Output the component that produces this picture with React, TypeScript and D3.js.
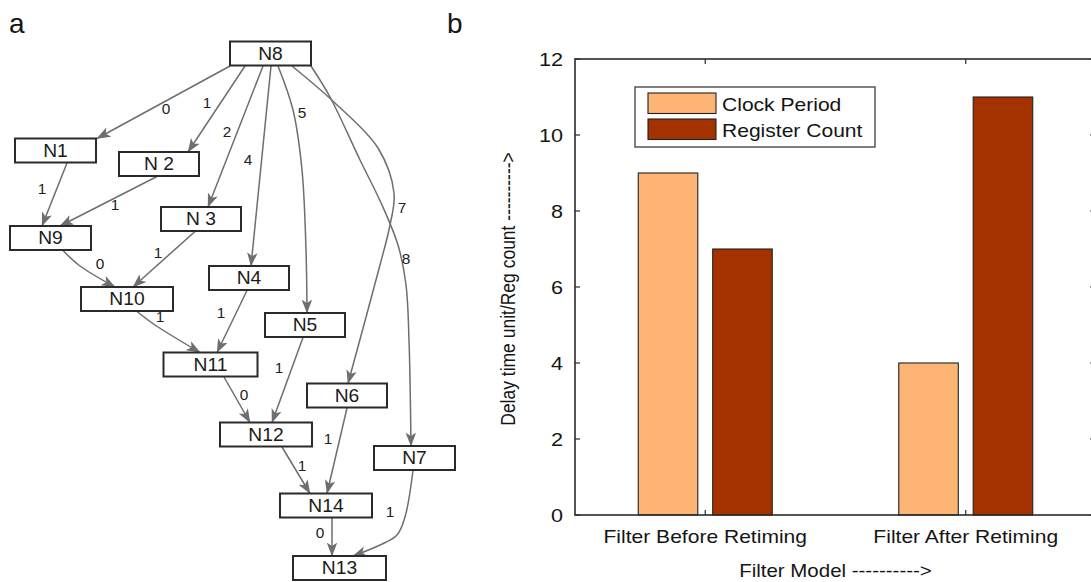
import React, { useEffect, useRef } from 'react';
import * as d3 from 'd3';

// ---------- Panel b data ----------
const categories = ['Filter Before Retiming', 'Filter After Retiming'];
const seriesNames = ['Clock Period', 'Register Count'];
const clockPeriod = [9, 4];
const registerCount = [7, 11];
const yTicks = [0, 2, 4, 6, 8, 10, 12];
const xAxisTitle = 'Filter Model ---------->';
const yAxisTitle = 'Delay time unit/Reg count ---------->';

// ---------- Panel a data ----------
const nodeNames = ['N8', 'N1', 'N2', 'N3', 'N9', 'N4', 'N10', 'N5', 'N11', 'N6', 'N12', 'N7', 'N14', 'N13'];
const nodeLabels = ['N8', 'N1', 'N 2', 'N 3', 'N9', 'N4', 'N10', 'N5', 'N11', 'N6', 'N12', 'N7', 'N14', 'N13'];
const edgeList: [string, string, number][] = [
  ['N8', 'N1', 0], ['N8', 'N2', 1], ['N8', 'N3', 2], ['N8', 'N4', 4], ['N8', 'N5', 5],
  ['N8', 'N6', 7], ['N8', 'N7', 8], ['N1', 'N9', 1], ['N2', 'N9', 1], ['N3', 'N10', 1],
  ['N9', 'N10', 0], ['N10', 'N11', 1], ['N4', 'N11', 1], ['N11', 'N12', 0], ['N5', 'N12', 1],
  ['N6', 'N14', 1], ['N12', 'N14', 1], ['N14', 'N13', 0], ['N7', 'N13', 1],
];

// ---------- Layout (positions / sizes) ----------
const nodeLayout: Record<string, [number, number, number]> = {
  N8: [270.5, 53.5, 81], N1: [55.5, 150.5, 81], N2: [159, 164, 80], N3: [201, 219, 80],
  N9: [50.5, 238, 81], N4: [249, 278, 80], N10: [127, 299, 92], N5: [305, 325, 80],
  N11: [210.5, 364.5, 94], N6: [347, 395.5, 80], N12: [266, 434.5, 92], N7: [414.5, 458, 81],
  N14: [326, 505.5, 92], N13: [339.5, 568, 93],
};
const NODE_H = 24;
const edgeRoutes: { s: number; t: number; via: [number, number][]; lab: [number, number] }[] = [
  { s: -40.5, t: 41.5, via: [], lab: [166, 109] },
  { s: -25.5, t: 29, via: [], lab: [207, 103] },
  { s: -7.5, t: 7, via: [], lab: [227, 132] },
  { s: 0.5, t: 2, via: [], lab: [248, 160] },
  { s: 7.5, t: 2, via: [[293, 110], [302, 170], [306, 250]], lab: [302, 113] },
  { s: 21.5, t: 1, via: [[335, 103], [378, 148], [394, 193], [390, 225], [380, 265]], lab: [402, 208] },
  { s: 40.5, t: -3.5, via: [[330, 97], [360, 160], [382, 205], [398, 245], [406, 285], [409, 340]], lab: [406, 259] },
  { s: 11.5, t: -8.5, via: [], lab: [42, 189] },
  { s: -2, t: 9.5, via: [], lab: [115, 205] },
  { s: -6, t: 6, via: [], lab: [158, 253] },
  { s: 12.5, t: -12, via: [[80, 266]], lab: [100, 264] },
  { s: 10, t: -10.5, via: [[155, 325]], lab: [160, 317] },
  { s: -2, t: 6.5, via: [], lab: [221, 313] },
  { s: 13.5, t: -16, via: [], lab: [244, 395] },
  { s: -2, t: 6, via: [], lab: [279, 368] },
  { s: 0, t: 1, via: [], lab: [328, 439] },
  { s: 16, t: -16, via: [], lab: [302, 466] },
  { s: 6, t: -7.5, via: [], lab: [320, 533] },
  { s: -1.5, t: 13.5, via: [[405, 517], [397, 535], [380, 545]], lab: [390, 512] },
];

const FONT = '"Liberation Sans", Arial, sans-serif';
const PEACH = '#FDB474';
const BRICK = '#A33200';
const EDGE = '#6e6e6e';

function txt(g: any, x: number, y: number, s: string, size: number, o: any = {}) {
  return g
    .append('text')
    .attr('transform', `translate(${x},${y})${o.rot ? ` rotate(${o.rot})` : ''} scale(${o.sx ?? 1},${o.sy ?? 1})`)
    .attr('text-anchor', o.anchor ?? 'start')
    .attr('font-size', size)
    .attr('font-family', FONT)
    .attr('fill', o.fill ?? '#151515')
    .text(s);
}

export default function App() {
  const ref = useRef<SVGSVGElement>(null);

  useEffect(() => {
    const svg = d3.select(ref.current);
    svg.selectAll('*').remove();

    // ---------- Panel labels ----------
    txt(svg, 9, 33, 'a', 28);
    txt(svg, 447, 33, 'b', 28);

    // ---------- Panel a: graph ----------
    const defs = svg.append('defs');
    defs
      .append('marker')
      .attr('id', 'arr')
      .attr('markerUnits', 'userSpaceOnUse')
      .attr('markerWidth', 14)
      .attr('markerHeight', 12)
      .attr('viewBox', '0 0 12 10')
      .attr('refX', 11.5)
      .attr('refY', 5)
      .attr('orient', 'auto')
      .append('path')
      .attr('d', 'M0,0.5 L12,5 L0,9.5 L3,5 Z')
      .attr('fill', EDGE);

    const ga = svg.append('g');
    const line = d3
      .line<[number, number]>()
      .x((d) => d[0])
      .y((d) => d[1])
      .curve(d3.curveCatmullRom.alpha(0.5));

    edgeList.forEach(([src, tgt, w], i) => {
      const r = edgeRoutes[i];
      const [sx, sy] = nodeLayout[src];
      const [tx, ty] = nodeLayout[tgt];
      const pts: [number, number][] = [
        [sx + r.s, sy + NODE_H / 2 + 0.5],
        ...r.via,
        [tx + r.t, ty - NODE_H / 2],
      ];
      ga.append('path')
        .attr('d', line(pts))
        .attr('fill', 'none')
        .attr('stroke', EDGE)
        .attr('stroke-width', 1.5)
        .attr('marker-end', 'url(#arr)');
      txt(ga, r.lab[0], r.lab[1] + 5, String(w), 14, { anchor: 'middle', sx: 1.1, fill: '#222' });
    });

    nodeNames.forEach((n, i) => {
      const [cx, cy, w] = nodeLayout[n];
      ga.append('rect')
        .attr('x', cx - w / 2)
        .attr('y', cy - NODE_H / 2)
        .attr('width', w)
        .attr('height', NODE_H)
        .attr('fill', '#fff')
        .attr('stroke', '#2a2a2a')
        .attr('stroke-width', 2);
      txt(ga, cx, cy + 6.3, nodeLabels[i], 17.5, { anchor: 'middle', sx: 1.1, fill: '#1a1a1a' });
    });

    // ---------- Panel b: bar chart ----------
    const left = 575, right = 1096, top = 59, bottom = 515;
    const x = d3.scaleLinear().domain([0.5, categories.length + 0.5]).range([left, right]);
    const y = d3.scaleLinear().domain([0, 12]).range([bottom, top]);
    const nSeries = seriesNames.length;
    const groupWidth = Math.min(0.8, nSeries / (nSeries + 1.5));
    const barW = (groupWidth / nSeries) * 0.8;
    const series = [clockPeriod, registerCount];
    const colors = [PEACH, BRICK];
    const gb = svg.append('g');

    series.forEach((vals, si) => {
      const off = -groupWidth / 2 + (si + 0.5) * (groupWidth / nSeries);
      vals.forEach((v, ci) => {
        const xc = ci + 1 + off;
        gb.append('rect')
          .attr('x', x(xc - barW / 2))
          .attr('y', y(v))
          .attr('width', x(xc + barW / 2) - x(xc - barW / 2))
          .attr('height', y(0) - y(v))
          .attr('fill', colors[si])
          .attr('stroke', '#222')
          .attr('stroke-width', 1.1);
      });
    });

    // frame
    const axCol = '#2b2b2b';
    gb.append('rect')
      .attr('x', left)
      .attr('y', top)
      .attr('width', right - left)
      .attr('height', bottom - top)
      .attr('fill', 'none')
      .attr('stroke', axCol)
      .attr('stroke-width', 1.6);

    // y ticks
    yTicks.forEach((t) => {
      gb.append('line').attr('x1', left).attr('x2', left + 5).attr('y1', y(t)).attr('y2', y(t)).attr('stroke', axCol).attr('stroke-width', 1.2);
      gb.append('line').attr('x1', right).attr('x2', right - 6).attr('y1', y(t)).attr('y2', y(t)).attr('stroke', axCol).attr('stroke-width', 1.2);
      txt(gb, left - 12, y(t) + 6.5, String(t), 18, { anchor: 'end', sx: 1.2 });
    });

    // x ticks and labels
    categories.forEach((c, i) => {
      const xc = x(i + 1);
      gb.append('line').attr('x1', xc).attr('x2', xc).attr('y1', bottom).attr('y2', bottom - 5).attr('stroke', axCol).attr('stroke-width', 1.2);
      gb.append('line').attr('x1', xc).attr('x2', xc).attr('y1', top).attr('y2', top + 5).attr('stroke', axCol).attr('stroke-width', 1.2);
      txt(gb, xc, 543, c, 18, { anchor: 'middle', sx: 1.17 });
    });

    // axis titles
    txt(gb, (left + right) / 2, 577, xAxisTitle, 17.5, { anchor: 'middle', sx: 1.17 });
    txt(gb, 515, 289, yAxisTitle, 17.5, { anchor: 'middle', rot: -90, sy: 1.2 });

    // legend
    const lg = gb.append('g');
    lg.append('rect').attr('x', 635).attr('y', 87).attr('width', 240).attr('height', 60).attr('fill', '#fff').attr('stroke', '#4a4a4a').attr('stroke-width', 1.4);
    seriesNames.forEach((s, i) => {
      const yy = 93 + i * 26;
      lg.append('rect').attr('x', 648).attr('y', yy).attr('width', 68).attr('height', 20.5).attr('fill', colors[i]).attr('stroke', '#222').attr('stroke-width', 1.1);
      txt(lg, 722, yy + 17.5, s, 18, { sx: 1.17 });
    });
  }, []);

  return (
    <svg
      ref={ref}
      width={1091}
      height={582}
      style={{ position: 'absolute', left: 0, top: 0, background: '#fff' }}
    />
  );
}
